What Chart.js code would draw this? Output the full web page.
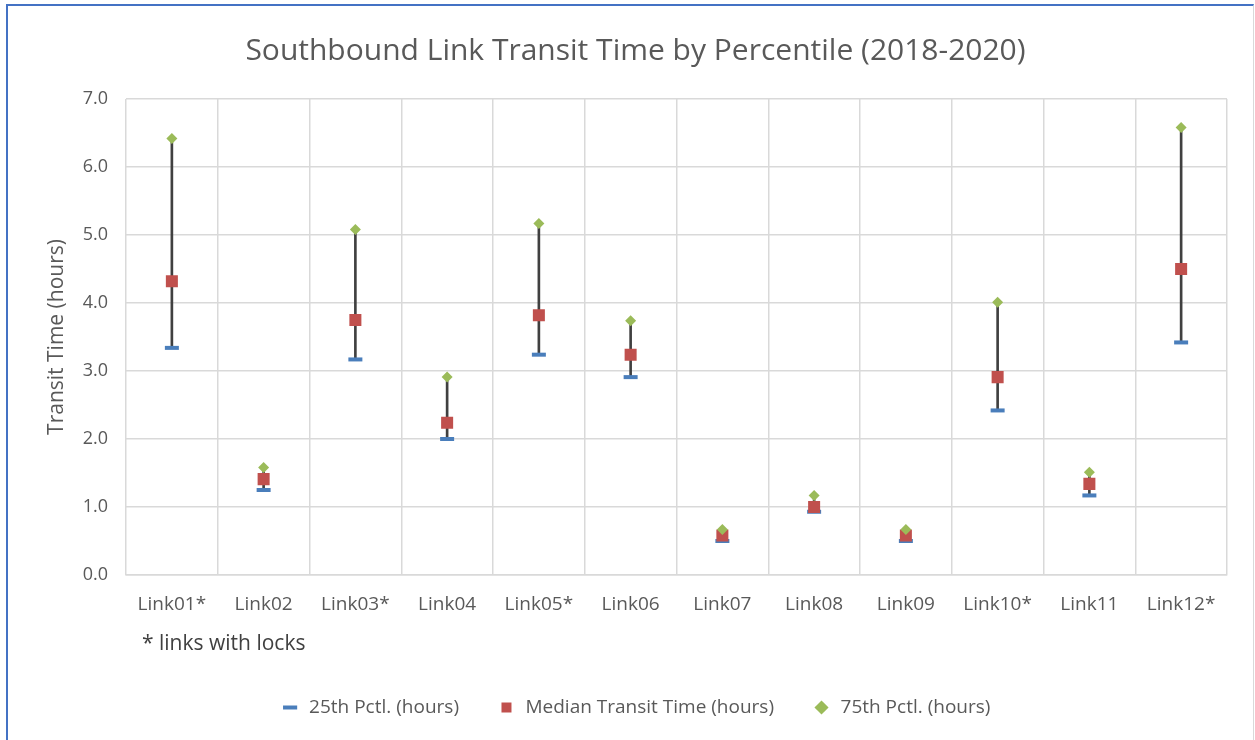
<!DOCTYPE html>
<html>
<head>
<meta charset="utf-8">
<script src="https://cdn.jsdelivr.net/npm/chart.js@4.4.0/dist/chart.umd.min.js"></script>
<style>
  body { margin: 0; background: #fff; overflow: hidden; }
  #frame {
    position: absolute; left: 6px; top: 4px; width: 1245px; height: 800px;
    border-top: 2px solid #4472C4; border-left: 2px solid #4472C4;
    border-right: 1px solid #d9d9d9;
  }
  #wrap { position: absolute; left: 0; top: 0; width: 1255px; height: 740px; }
</style>
</head>
<body>
<div id="frame"></div>
<div id="wrap"><canvas id="transitChart"></canvas></div>
<script>
// links along the southbound route (* = link has locks)
const links = ["Link01*", "Link02", "Link03*", "Link04", "Link05*", "Link06",
  "Link07", "Link08", "Link09", "Link10*", "Link11", "Link12*"];

// transit time percentiles, hours
const pct25 = [3.34, 1.25, 3.17, 2.00, 3.24, 2.91, 0.50, 0.93, 0.50, 2.42, 1.17, 3.42];
const median = [4.32, 1.41, 3.75, 2.24, 3.82, 3.24, 0.58, 1.00, 0.58, 2.91, 1.34, 4.50];
const pct75 = [6.42, 1.58, 5.08, 2.91, 5.17, 3.74, 0.67, 1.17, 0.67, 4.01, 1.51, 6.58];

const yTicks = [0, 1, 2, 3, 4, 5, 6, 7];

const textColor = "#595959";
const fontFamily = "'Open Sans', sans-serif";

// footnote under the axis labels
const footnote = {
  id: "footnote",
  afterDraw(chart) {
    const ctx = chart.ctx;
    ctx.save();
    ctx.font = "21px " + fontFamily;
    ctx.fillStyle = "#404040";
    ctx.textBaseline = "middle";
    ctx.fillText("* links with locks", 142, 644);
    ctx.restore();
  }
};

const ctx = document.getElementById("transitChart");

new Chart(ctx, {
  type: "bar",
  data: {
    labels: links,
    datasets: [
      {
        label: "25th Pctl. (hours)",
        type: "line",
        data: pct25,
        showLine: false,
        pointStyle: "line",
        pointRadius: 7,
        pointHoverRadius: 7,
        pointBorderWidth: 4,
        borderWidth: 4,
        borderColor: "#4A7EBB",
        pointBorderColor: "#4A7EBB",
        backgroundColor: "#4A7EBB",
        order: 3,
      },
      {
        label: "Median Transit Time (hours)",
        type: "line",
        data: median,
        showLine: false,
        pointStyle: "rect",
        pointRadius: 8.5,
        pointHoverRadius: 8.5,
        pointBorderWidth: 0,
        borderWidth: 0,
        borderColor: "#C0504D",
        backgroundColor: "#C0504D",
        pointBackgroundColor: "#C0504D",
        order: 1,
      },
      {
        label: "75th Pctl. (hours)",
        type: "line",
        data: pct75,
        showLine: false,
        pointStyle: "rectRot",
        pointRadius: 5.5,
        pointHoverRadius: 5.5,
        pointBorderWidth: 0,
        borderWidth: 0,
        borderColor: "#9BBB59",
        backgroundColor: "#9BBB59",
        pointBackgroundColor: "#9BBB59",
        order: 0,
      },
      {
        // high-low line from 25th to 75th
        label: "range",
        data: pct25.map((v, i) => [v, pct75[i]]),
        backgroundColor: "#404040",
        barThickness: 2,
        order: 5,
      },
    ],
  },
  options: {
    responsive: true,
    maintainAspectRatio: false,
    animation: false,
    layout: { padding: { top: 4, left: 44, right: 28, bottom: 13 } },
    plugins: {
      title: {
        display: true,
        text: "Southbound Link Transit Time by Percentile (2018-2020)",
        color: textColor,
        font: { family: fontFamily, size: 30, weight: "normal" },
        padding: { top: 29, bottom: 30 },
      },
      legend: {
        position: "bottom",
        labels: {
          usePointStyle: true,
          boxHeight: 10,
          color: textColor,
          font: { family: fontFamily, size: 19 },
          padding: 38,
          filter: (item) => item.text !== "range",
          sort: (a, b) => a.datasetIndex - b.datasetIndex,
        },
      },
      tooltip: { enabled: false },
    },
    scales: {
      x: {
        grid: { color: "#d9d9d9", lineWidth: 1.5, drawTicks: false, offset: true },
        border: { color: "#d9d9d9", width: 1.5 },
        ticks: {
          color: textColor,
          font: { family: fontFamily, size: 19 },
          padding: 18,
          maxRotation: 0,
        },
        afterFit: (s) => { s.height = 85; },
      },
      y: {
        min: 0,
        max: 7,
        afterBuildTicks: (s) => { s.ticks = yTicks.map((v) => ({ value: v })); },
        grid: { color: "#d9d9d9", lineWidth: 1.5, drawTicks: false },
        border: { display: false },
        ticks: {
          color: textColor,
          font: { family: fontFamily, size: 18 },
          padding: 18,
          callback: (v) => v.toFixed(1),
        },
        title: {
          display: true,
          text: "Transit Time (hours)",
          color: textColor,
          font: { family: fontFamily, size: 21 },
          padding: { top: 0, bottom: 4 },
        },
        afterFit: (s) => { s.width = 82; },
      },
    },
  },
  plugins: [footnote],
});
</script>
</body>
</html>
